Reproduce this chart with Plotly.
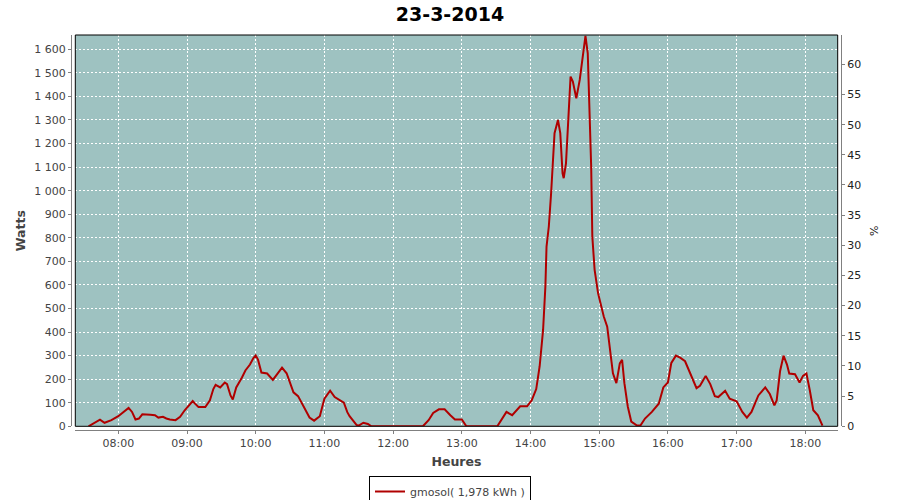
import plotly.graph_objects as go

DAY = "2014-03-23"

times = ["07:34","07:38","07:44","07:48","07:54","08:00","08:04","08:09","08:12","08:15",
         "08:18","08:21","08:28","08:32","08:35","08:39","08:42","08:45","08:50","08:54",
         "08:58","09:03","09:05","09:07","09:10","09:16","09:20","09:23","09:25","09:29",
         "09:33","09:35","09:38","09:40","09:43","09:48","09:51","09:55","09:58","10:00",
         "10:02","10:05","10:10","10:15","10:20","10:23","10:27","10:33","10:37","10:43",
         "10:47","10:51","10:56","11:00","11:05","11:09","11:15","11:17","11:20","11:22",
         "11:28","11:30","11:34","11:38","11:41","12:26","12:31","12:35","12:40","12:45",
         "12:50","12:54","13:00","13:04","13:31","13:35","13:39","13:44","13:51","13:57",
         "14:01","14:05","14:08","14:11","14:13","14:14","14:16","14:18","14:20","14:21",
         "14:24","14:26","14:28","14:29","14:31","14:33","14:34","14:35","14:37","14:40",
         "14:43","14:46","14:48","14:50","14:51","14:53","14:54","14:56","14:59","15:04",
         "15:07","15:09","15:12","15:15","15:18","15:20","15:22","15:25","15:28","15:33",
         "15:36","15:40","15:46","15:52","15:56","16:00","16:03","16:07","16:11","16:15",
         "16:19","16:25","16:28","16:33","16:37","16:41","16:44","16:50","16:54","17:00",
         "17:05","17:09","17:13","17:19","17:25","17:29","17:33","17:35","17:38","17:41",
         "17:44","17:46","17:51","17:55","17:58","18:01","18:04","18:07","18:11","18:15"]

watts = [0, 12, 28, 15, 26, 43, 57, 78, 61, 29,
         33, 51, 49, 47, 37, 40, 33, 29, 26, 40,
         68, 96, 107, 96, 82, 82, 110, 158, 176, 165,
         186, 179, 131, 114, 165, 207, 237, 262, 290, 301,
         283, 228, 224, 197, 232, 249, 225, 144, 128, 75,
         37, 24, 43, 117, 151, 124, 107, 100, 60, 43,
         6, 3, 15, 10, 0, 0, 26, 57, 72, 72,
         47, 29, 29, 0, 0, 29, 61, 47, 85, 85,
         110, 158, 255, 409, 593, 763, 848, 989, 1131, 1244,
         1300, 1244, 1074, 1053, 1116, 1315, 1399, 1484, 1463, 1392,
         1470, 1598, 1657, 1583, 1442, 1102, 805, 664, 565, 466,
         423, 352, 225, 183, 267, 282, 183, 83, 20, 3,
         3, 33, 61, 96, 165, 186, 269, 300, 290, 276,
         228, 162, 172, 214, 179, 128, 124, 151, 117, 106,
         61, 37, 61, 131, 165, 137, 89, 110, 235, 300,
         262, 224, 221, 186, 214, 224, 151, 68, 47, 3]

series_name = "gmosol( 1,978 kWh )"
title_text = "23-3-2014"
x_title = "Heures"
y_title = "Watts"
y2_title = "%"

x_vals = [f"{DAY} {t}:00" for t in times]

PLOT_BG = "#9EC2C1"
LINE_COL = "#B00000"
AXIS_GRAY = "#808080"
TXT = "#444444"

fig = go.Figure()
fig.add_trace(go.Scatter(x=x_vals, y=watts, mode="lines", name=series_name,
                         line=dict(color=LINE_COL, width=2), yaxis="y"))
fig.add_trace(go.Scatter(x=[], y=[], yaxis="y2", showlegend=False, hoverinfo="skip"))

fig.update_layout(
    width=900, height=500,
    paper_bgcolor="white", plot_bgcolor=PLOT_BG,
    margin=dict(l=71, r=59, t=35, b=70, autoexpand=False),
    separators=", ",
    font=dict(family="DejaVu Sans", size=11, color=TXT),
    title=dict(text=title_text, x=0.5, xanchor="center", y=1 - 14 / 500, yanchor="middle",
               font=dict(family="DejaVu Sans", size=19, color="black", weight="bold")),
    xaxis=dict(
        type="date", domain=[4.3 / 770, 766.7 / 770], anchor="free", position=0,
        range=[f"{DAY} 07:22:27", f"{DAY} 18:28:18"],
        tick0=f"{DAY} 08:00", dtick=3600000, tickformat="%H:%M",
        showline=True, linecolor=AXIS_GRAY, linewidth=1,
        ticks="outside", ticklen=3, tickcolor=AXIS_GRAY,
        showgrid=True, gridcolor="white", gridwidth=1, griddash="2px,2px",
        zeroline=False, automargin=False,
        tickfont=dict(family="DejaVu Sans", size=11, color=TXT),
        title=dict(text=x_title, standoff=8,
                   font=dict(family="DejaVu Sans", size=12.5, color=TXT, weight="bold")),
    ),
    yaxis=dict(
        domain=[3.7 / 395, 1], anchor="free", position=0,
        range=[0, 1660.7], dtick=100, tick0=0, separatethousands=True,
        showline=True, linecolor=AXIS_GRAY, linewidth=1,
        ticks="outside", ticklen=3, tickcolor=AXIS_GRAY,
        showgrid=True, gridcolor="white", gridwidth=1, griddash="2px,2px",
        zeroline=False, automargin=False,
        tickfont=dict(family="DejaVu Sans", size=11, color=TXT),
        title=dict(text=y_title, standoff=4,
                   font=dict(family="DejaVu Sans", size=12.5, color=TXT, weight="bold")),
    ),
    yaxis2=dict(
        overlaying="y", side="right", anchor="free", position=1,
        range=[0, 64.86], dtick=5, tick0=0,
        showline=True, linecolor=AXIS_GRAY, linewidth=1,
        ticks="outside", ticklen=3, tickcolor=AXIS_GRAY,
        showgrid=False, zeroline=False, automargin=False,
        tickfont=dict(family="DejaVu Sans", size=11, color="#222222"),
        title=dict(text=y2_title, standoff=10,
                   font=dict(family="DejaVu Sans", size=11, color="#222222")),
    ),
    showlegend=True,
    legend=dict(orientation="h", xref="container", yref="container",
                x=0.5, xanchor="center", y=1 - 476 / 500, yanchor="top",
                bordercolor="black", borderwidth=1, bgcolor="white",
                font=dict(family="DejaVu Sans", size=11, color=TXT),
                itemwidth=30),
    shapes=[dict(type="rect", xref="x domain", yref="y domain", x0=0, x1=1, y0=0, y1=1,
                 line=dict(color="black", width=1), fillcolor="rgba(0,0,0,0)", layer="above")],
)

fig.write_html("out.html", config={"displayModeBar": False},
               post_script="document.body.style.margin='0';")
